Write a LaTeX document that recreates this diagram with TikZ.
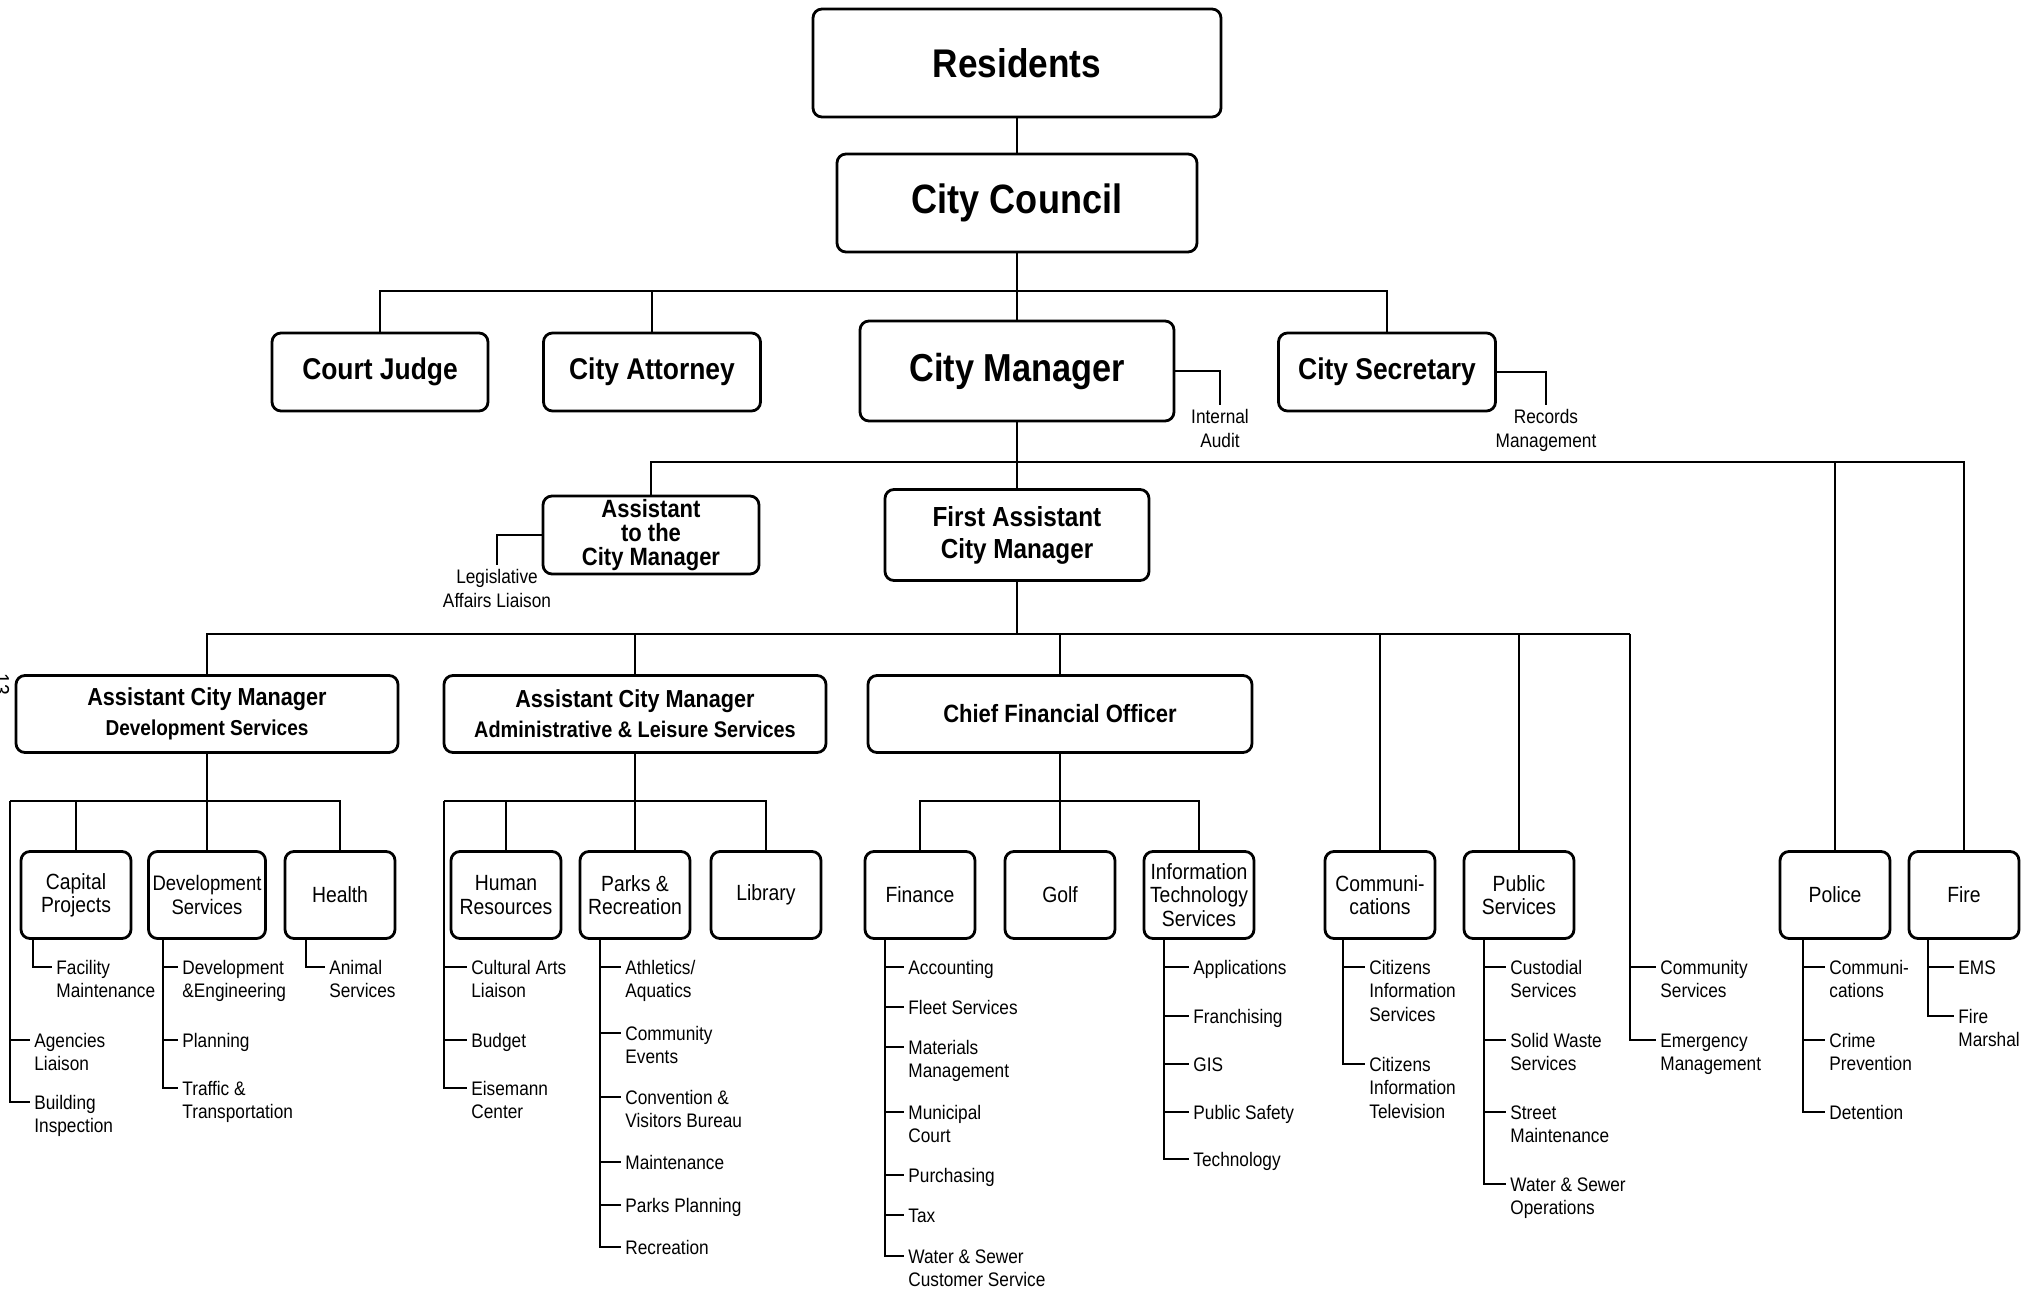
\documentclass[tikz,border=0pt]{standalone}
\usepackage{fontspec}
\setmainfont{Liberation Sans}[FakeStretch=0.88]
\tikzset{
  box/.style={draw, line width=1.4pt, rounded corners=4.5pt, align=center, inner sep=1pt},
  head/.style 2 args={box, font=\bfseries\fontsize{#1}{#2}\selectfont},
  unit/.style={box, minimum width=55pt, minimum height=43.5pt, font=\fontsize{11}{11.7}\selectfont},
  item/.style={align=left, inner sep=2pt, font=\fontsize{9.8}{11.7}\selectfont},
  link/.style={line width=1.1pt},
}
% #1 prefix, #2 top of the spine, #3 spine x, #4 text x, #5 list y/text
\newcommand{\branch}[5]{
  \coordinate (#1-x) at (#3,0);
  \foreach \y/\t [count=\i] in {#5} {
    \node[item, anchor=north west] (#1-\i) at (#4,\y-12.2) {\rule{0pt}{7.6pt}\t};
    \draw[link] (#2 -| #1-x) |- ([yshift=-6.1pt]#1-\i.north west);
  }
}

\begin{document}
\begin{tikzpicture}[x=0.5pt, y=-0.5pt]
  \useasboundingbox (0,0) rectangle (2040,1296);

  \node[rotate=-90, anchor=base, inner sep=0pt, font=\fontsize{11}{11}\selectfont] (pagenum) at (-6,684) {13};

  % council, manager and the offices beside them
  \node[head={20}{22}, minimum width=204pt, minimum height=54pt] (res) at (1017,63) {Residents};
  \node[head={20.5}{22}, minimum width=180pt, minimum height=49pt] (council) at (1017,203) {City Council};
  \node[head={15}{17}, minimum width=108pt, minimum height=39pt] (judge) at (380,372) {Court Judge};
  \node[head={15}{17}, minimum width=108.5pt, minimum height=39pt] (attorney) at (652,372) {City Attorney};
  \node[head={19.5}{22}, minimum width=157pt, minimum height=50pt] (cm) at (1017,371) {City Manager};
  \node[head={15}{17}, minimum width=108.5pt, minimum height=39pt] (secretary) at (1387,372) {City Secretary};
  \node[item, anchor=north, align=center] (audit) at (1220,405) {Internal\\Audit};
  \node[item, anchor=north, align=center] (records) at (1546,405) {Records\\Management};

  \node[head={12.5}{12}, minimum width=108pt, minimum height=39pt] (atcm) at (651,535) {Assistant\\to the\\City Manager};
  \node[head={13.8}{16}, minimum width=132pt, minimum height=45.5pt] (facm) at (1017,535) {First Assistant\\City Manager};
  \node[item, anchor=north, align=center] (leg) at (497,565) {Legislative\\Affairs Liaison};

  \node[head={12.3}{15}, minimum width=191pt, minimum height=38.5pt] (acmdev) at (207,714) {Assistant City Manager\\\fontsize{10.8}{15}\selectfont Development Services};
  \node[head={12.3}{15}, minimum width=191pt, minimum height=38.5pt] (acmadm) at (635,714) {Assistant City Manager\\\fontsize{11.3}{15}\selectfont Administrative \& Leisure Services};
  \node[head={12.5}{15}, minimum width=192pt, minimum height=38.5pt] (cfo) at (1060,714) {Chief Financial Officer};

  % departments
  \node[unit] (capproj) at (76,895) {Capital\\Projects};
  \node[unit, minimum width=58.5pt, font=\fontsize{10.5}{11.7}\selectfont] (devsvc) at (207,895) {Development\\Services};
  \node[unit] (health) at (340,895) {Health};
  \node[unit] (hr) at (506,895) {Human\\Resources};
  \node[unit] (parks) at (635,895) {Parks \&\\Recreation};
  \node[unit] (library) at (766,895) {Library};
  \node[unit] (finance) at (920,895) {Finance};
  \node[unit] (golf) at (1060,895) {Golf};
  \node[unit] (it) at (1199,895) {Information\\Technology\\Services};
  \node[unit] (comm) at (1380,895) {Communi-\\cations};
  \node[unit] (pubsvc) at (1519,895) {Public\\Services};
  \node[unit] (police) at (1835,895) {Police};
  \node[unit] (fire) at (1964,895) {Fire};

  % connectors
  \coordinate (bus1) at (0,291);
  \coordinate (bus2) at (0,462);
  \coordinate (bus3) at (0,634);
  \coordinate (cstop) at (1630,634);
  \coordinate (devbus) at (10,801);
  \coordinate (admbus) at (444,801);

  \draw[link] (res) -- (council);
  \draw[link] (council) -- (cm);
  \draw[link] (judge.north) |- (bus1 -| secretary.north) -- (secretary.north);
  \draw[link] (attorney.north) -- (attorney.north |- bus1);
  \draw[link] (cm.east) -| (audit.north);
  \draw[link] (secretary.east) -| (records.north);

  \draw[link] (cm) -- (facm);
  \draw[link] (atcm.north) |- (bus2 -| fire.north) -- (fire.north);
  \draw[link] (police.north) -- (police.north |- bus2);
  \draw[link] (atcm.west) -| (leg.north);

  \draw[link] (facm.south) -- (facm.south |- bus3);
  \draw[link] (acmdev.north) |- (cstop);
  \foreach \n in {acmadm, cfo, comm, pubsvc}
    \draw[link] (\n.north) -- (\n.north |- bus3);

  \draw[link] (acmdev) -- (devsvc);
  \draw[link] (devbus) -| (health.north);
  \draw[link] (capproj.north) -- (capproj.north |- devbus);
  \draw[link] (acmadm) -- (parks);
  \draw[link] (admbus) -| (library.north);
  \draw[link] (hr.north) -- (hr.north |- admbus);
  \draw[link] (cfo) -- (golf);
  \draw[link] (finance.north) |- (golf.north |- devbus) -| (it.north);

  % sections
  \branch{dvl}{devbus}{10}{30}{1040/{Agencies\\Liaison}, 1102/{Building\\Inspection}}
  \branch{cap}{capproj.south}{33}{52}{967/{Facility\\Maintenance}}
  \branch{dvs}{devsvc.south}{163}{178}{967/{Development\\\&Engineering}, 1040/Planning, 1088/{Traffic \&\\Transportation}}
  \branch{hlt}{health.south}{306}{325}{967/{Animal\\Services}}
  \branch{adm}{admbus}{444}{467}{967/{Cultural Arts\\Liaison}, 1040/Budget, 1088/{Eisemann\\Center}}
  \branch{prk}{parks.south}{600}{621}{967/{Athletics/\\Aquatics}, 1033/{Community\\Events}, 1097/{Convention \&\\Visitors Bureau}, 1162/Maintenance, 1205/Parks Planning, 1247/Recreation}
  \branch{fin}{finance.south}{885}{904}{967/Accounting, 1007/Fleet Services, 1047/{Materials\\Management}, 1112/{Municipal\\Court}, 1175/Purchasing, 1215/Tax, 1256/{Water \& Sewer\\Customer Service}}
  \branch{its}{it.south}{1164}{1189}{967/Applications, 1016/Franchising, 1064/GIS, 1112/Public Safety, 1159/Technology}
  \branch{com}{comm.south}{1343}{1365}{967/{Citizens\\Information\\Services}, 1064/{Citizens\\Information\\Television}}
  \branch{pub}{pubsvc.south}{1484}{1506}{967/{Custodial\\Services}, 1040/{Solid Waste\\Services}, 1112/{Street\\Maintenance}, 1184/{Water \& Sewer\\Operations}}
  \branch{cms}{cstop}{1630}{1656}{967/{Community\\Services}, 1040/{Emergency\\Management}}
  \branch{pol}{police.south}{1803}{1825}{967/{Communi-\\cations}, 1040/{Crime\\Prevention}, 1112/Detention}
  \branch{fir}{fire.south}{1928}{1954}{967/EMS, 1016/{Fire\\Marshal}}
\end{tikzpicture}
\end{document}
